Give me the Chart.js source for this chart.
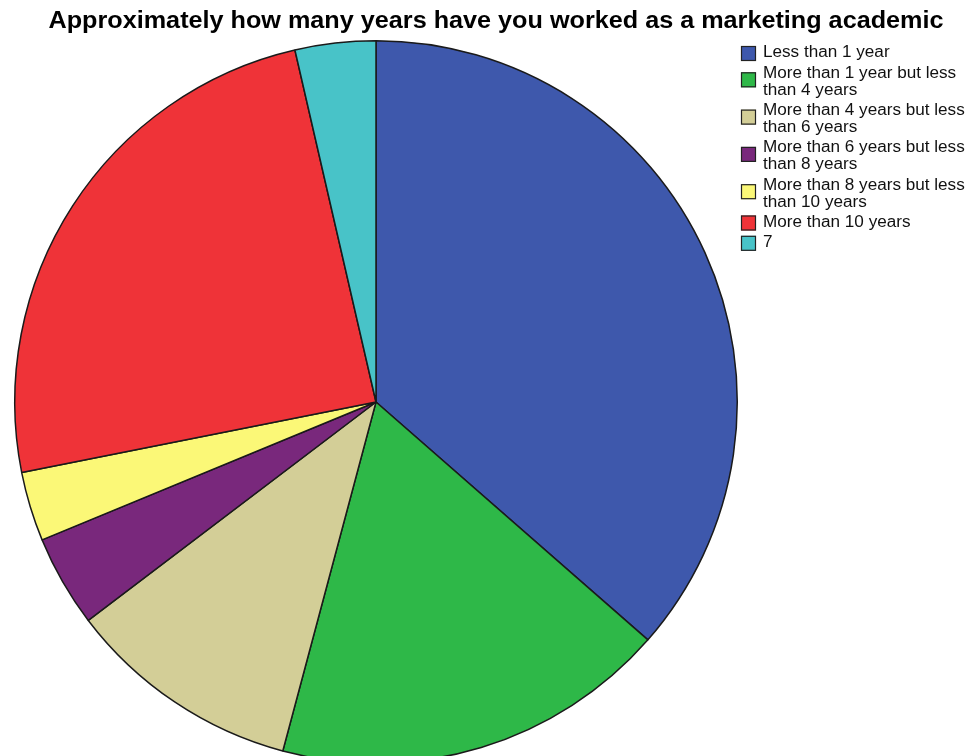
<!DOCTYPE html>
<html>
<head>
<meta charset="utf-8">
<script src="https://cdn.jsdelivr.net/npm/chart.js@4.4.0/dist/chart.umd.min.js"></script>
<style>
  html, body { margin: 0; padding: 0; background: #fff; overflow: hidden; }
  #wrap { width: 971px; height: 756px; overflow: hidden; }
</style>
</head>
<body>
<div id="wrap"><canvas id="chartAnios" width="971" height="780"></canvas></div>
<script>
const titulo = 'Approximately how many years have you worked as a marketing academic';

const categorias = [
  'Less than 1 year',
  'More than 1 year but less than 4 years',
  'More than 4 years but less than 6 years',
  'More than 6 years but less than 8 years',
  'More than 8 years but less than 10 years',
  'More than 10 years',
  '7'
];

// porcentaje de respuestas por categoría
const porcentajes = [36.4, 17.7, 10.5, 4.1, 3.1, 24.5, 3.6];

const colores = ['#3e58ac', '#2eb848', '#d3ce97', '#79287c', '#fbf877', '#ef3338', '#48c3c8'];

// titulo y leyenda dibujados a mano sobre el canvas
const textosExtra = {
  id: 'textosExtra',
  afterDraw(chart) {
    const ctx = chart.ctx;
    ctx.save();

    // titulo, ajustado al ancho
    ctx.font = 'bold 23px "Liberation Sans", Arial, sans-serif';
    ctx.fillStyle = '#000';
    ctx.textBaseline = 'middle';
    ctx.textAlign = 'center';
    const w = ctx.measureText(titulo).width;
    ctx.translate(496, 22);
    ctx.scale(895 / w, 1);
    ctx.fillText(titulo, 0, 0);
    ctx.restore();

    // leyenda
    ctx.save();
    ctx.font = '16px "Liberation Sans", Arial, sans-serif';
    ctx.textAlign = 'left';
    ctx.textBaseline = 'middle';
    const xCaja = 741, xTexto = 763, anchoMax = 200, alto = 17, estirar = 1.07;
    let y = 53;
    categorias.forEach((cat, i) => {
      // partir el texto en lineas
      const palabras = cat.split(' ');
      const lineas = [];
      let actual = '';
      palabras.forEach(p => {
        const prueba = actual ? actual + ' ' + p : p;
        if (ctx.measureText(prueba).width > anchoMax && actual) {
          lineas.push(actual);
          actual = p;
        } else {
          actual = prueba;
        }
      });
      lineas.push(actual);

      const centro = lineas.length > 1 ? y + 6 : y;
      ctx.fillStyle = colores[i];
      ctx.fillRect(xCaja, centro - 7, 15, 15);
      ctx.strokeStyle = '#222';
      ctx.lineWidth = 1.2;
      ctx.strokeRect(xCaja + 0.5, centro - 6.5, 14, 14);

      ctx.fillStyle = '#111';
      lineas.forEach((l, k) => {
        ctx.save();
        ctx.translate(xTexto, y + k * alto);
        ctx.scale(estirar, 1);
        ctx.fillText(l, 0, 0);
        ctx.restore();
      });
      y += lineas.length * alto + 3.3;
    });
    ctx.restore();
  }
};

const ctx = document.getElementById('chartAnios').getContext('2d');

const chartAnios = new Chart(ctx, {
  type: 'pie',
  data: {
    labels: categorias,
    datasets: [{
      data: porcentajes,
      backgroundColor: colores,
      borderColor: '#1a1a1a',
      borderWidth: 1.5
    }]
  },
  options: {
    responsive: false,
    animation: false,
    devicePixelRatio: 1,
    layout: {
      padding: { left: 12, top: 40, right: 231, bottom: 16 }
    },
    plugins: {
      legend: { display: false },
      tooltip: { enabled: false }
    }
  },
  plugins: [textosExtra]
});
</script>
</body>
</html>
